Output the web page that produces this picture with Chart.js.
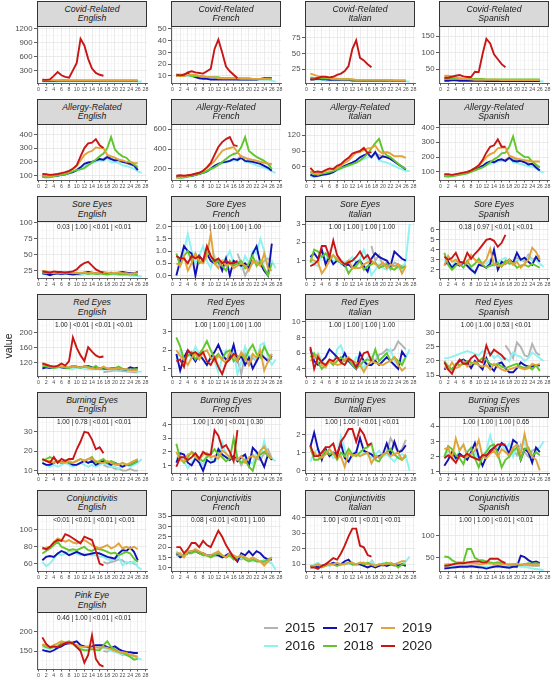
<!DOCTYPE html>
<html>
<head>
<meta charset="utf-8">
<script src="https://cdn.jsdelivr.net/npm/chart.js@4.4.1/dist/chart.umd.min.js"></script>
<style>
  body { margin: 0; background: #fff; }
  #wrap { position: relative; width: 552px; height: 680px; overflow: hidden; font-family: "Liberation Sans", Arial, sans-serif; }
  #wrap canvas { position: absolute; }
  .strip { position: absolute; box-sizing: border-box; background: #d9d9d9; border: 0.8px solid #333;
           text-align: center; font-style: italic; font-size: 8.7px; line-height: 9.4px; color: #1a1a1a; padding-top: 3px; z-index: 2; }
  .pval { position: absolute; font-size: 6.5px; color: #1a1a1a; text-align: center; white-space: nowrap; z-index: 2; }
  .ytitle { position: absolute; left: -10px; top: 340px; width: 36px; text-align: center; font-size: 10.5px; color: #1a1a1a; transform: rotate(-90deg); }
  .leg { position: absolute; font-size: 13.5px; color: #1a1a1a; line-height: 16px; }
  .sw { position: absolute; height: 2px; width: 14px; }
</style>
</head>
<body>
<div id="wrap"></div>
<script>
// years drawn in each panel, and the week each series starts at
const years = ["2015", "2016", "2017", "2018", "2019", "2020"];
const yearColors = ["#b3b3b3", "#8cf2f2", "#1212b4", "#60c62c", "#e2a33a", "#c81616"];
const firstWeek = [17, 1, 1, 1, 1, 1];
const weekTicks = [0, 2, 4, 6, 8, 10, 12, 14, 16, 18, 20, 22, 24, 26, 28];

const symptoms = ["Covid-Related", "Allergy-Related", "Sore Eyes", "Red Eyes", "Burning Eyes", "Conjunctivitis", "Pink Eye"];
const languages = ["English", "French", "Italian", "Spanish"];

// series per panel: 2015, 2016, 2017, 2018, 2019, 2020
const covidEnglish = [
  [75, 75, 75, 75, 75, 75, 75, 75, 75, 75],
  [60, 60, 60, 60, 60, 62, 62, 62, 62, 62, 62, 62, 62, 62, 62, 62, 62, 62, 62, 62, 62, 62, 62, 62, 62, 60, 58],
  [70, 70, 68, 68, 68, 68, 68, 68, 68, 68, 68, 68, 68, 68, 68, 68, 68, 68, 68, 68, 68, 68, 68, 68, 68, 70],
  [80, 78, 78, 78, 76, 76, 76, 76, 76, 76, 76, 76, 76, 76, 76, 76, 76, 76, 76, 76, 76, 76, 76, 76, 76, 76],
  [95, 92, 90, 90, 90, 92, 92, 90, 90, 90, 90, 90, 90, 90, 90, 90, 88, 88, 88, 88, 86, 86, 86, 85, 85, 85],
  [100, 95, 105, 180, 265, 195, 158, 140, 300, 460, 985, 840, 550, 340, 245, 205, 185]
];
const covidFrench = [
  [7, 7, 7, 7, 7, 7, 7, 7, 7, 7],
  [11, 11, 10, 10, 10, 10, 9, 9, 9, 9, 9, 8, 8, 8, 8, 8, 7, 7, 7, 7, 7, 7, 7, 7, 7, 6, 5],
  [10, 10, 11, 12, 10, 9, 8, 7.5, 7.5, 7, 7, 7, 7, 7, 7, 7, 7, 7, 7, 7, 7, 7, 7.5, 8, 8, 8],
  [11, 11, 11, 11, 10, 10, 10, 9, 9, 9, 9, 9, 8, 8, 8, 8, 8, 8, 8, 8, 7.5, 7.5, 7.5, 7.5, 7.5, 7.5],
  [10, 10, 10, 11, 11, 11, 10, 10, 9, 9, 9, 8, 8, 8, 8, 8, 8, 7.5, 7.5, 7.5, 7.5, 7.5, 7.5, 7.5, 7.5, 7],
  [11, 10.5, 11, 13, 14, 13, 12.5, 12, 14, 16, 33, 41, 30, 18, 14, 11, 8]
];
const covidItalian = [
  [6, 6, 6, 6, 6, 6, 6, 6, 6, 6],
  [8, 8, 8, 8, 7, 7, 7, 7, 7, 7, 7, 7, 7, 7, 6, 6, 6, 6, 6, 6, 6, 6, 6, 6, 6, 6, 5],
  [9, 9, 10, 9, 9, 8, 8, 8, 8, 8, 8, 7, 7, 7, 7, 7, 7, 7, 7, 7, 7, 7, 6, 6, 6, 6],
  [12, 11, 11, 10, 10, 10, 9, 9, 9, 9, 9, 8, 8, 8, 8, 8, 8, 8, 8, 8, 8, 7, 7, 7, 7, 7],
  [18, 16, 14, 13, 12, 11, 10, 10, 9, 9, 9, 9, 8, 8, 8, 8, 8, 8, 8, 8, 8, 8, 7, 7, 7, 7],
  [8.5, 9, 11, 13, 13, 12, 13, 16, 18, 22, 30, 57, 71, 43, 39, 33, 28]
];
const covidSpanish = [
  [15, 15, 15, 15, 15, 15, 15, 15, 15, 15],
  [18, 18, 18, 17, 17, 17, 17, 16, 16, 16, 16, 16, 16, 16, 16, 16, 15, 15, 15, 15, 15, 15, 15, 15, 15, 14, 12],
  [15, 15, 16, 16, 15, 15, 15, 15, 15, 15, 15, 14, 14, 14, 14, 14, 14, 14, 14, 14, 14, 14, 14, 14, 14, 14],
  [20, 20, 20, 21, 22, 21, 20, 20, 20, 20, 20, 19, 19, 19, 19, 19, 19, 19, 19, 19, 19, 19, 19, 19, 19, 19],
  [30, 30, 28, 25, 22, 20, 20, 19, 18, 18, 18, 18, 18, 18, 18, 17, 17, 17, 17, 17, 17, 17, 17, 17, 17, 17],
  [24, 24, 27, 30, 32, 28, 26, 26, 42, 41, 95, 142, 128, 95, 80, 65, 56]
];
const allergyEnglish = [
  [220, 240, 225, 210, 200, 200, 190, 180, 170, 160],
  [90, 85, 88, 92, 97, 102, 108, 115, 125, 135, 150, 165, 180, 190, 200, 210, 205, 230, 195, 200, 190, 175, 170, 160, 150, 130, 120],
  [95, 92, 93, 97, 100, 105, 110, 118, 125, 140, 160, 185, 195, 200, 210, 220, 215, 235, 220, 210, 215, 200, 195, 185, 175, 140],
  [90, 88, 90, 95, 100, 105, 110, 120, 130, 140, 145, 155, 175, 195, 215, 240, 260, 300, 380, 290, 260, 240, 230, 200, 180, 160],
  [100, 98, 96, 100, 110, 115, 120, 130, 150, 170, 210, 250, 270, 280, 305, 300, 300, 250, 240, 230, 215, 210, 200, 200, 190, 190],
  [112, 110, 105, 108, 112, 118, 125, 135, 150, 175, 240, 300, 335, 340, 365, 320, 300]
];
const allergyFrench = [
  [300, 330, 310, 290, 290, 280, 270, 260, 250, 240],
  [110, 105, 110, 118, 125, 135, 145, 160, 175, 195, 220, 240, 255, 265, 275, 285, 280, 320, 270, 265, 250, 235, 225, 210, 195, 175, 160],
  [120, 118, 120, 125, 130, 140, 150, 160, 175, 200, 230, 250, 265, 270, 280, 300, 290, 310, 280, 275, 270, 260, 250, 230, 210, 180],
  [115, 110, 115, 125, 130, 140, 150, 160, 180, 200, 215, 240, 270, 300, 330, 350, 360, 420, 520, 380, 350, 320, 300, 280, 250, 200],
  [110, 115, 120, 130, 140, 150, 160, 180, 210, 240, 280, 330, 380, 400, 410, 420, 370, 320, 310, 300, 290, 280, 270, 260, 255, 250],
  [130, 135, 130, 135, 140, 150, 160, 180, 215, 260, 340, 420, 470, 500, 520, 440, 430]
];
const allergyItalian = [
  [80, 85, 82, 80, 78, 75, 70, 65, 60, 55],
  [43, 40, 42, 44, 45, 47, 50, 53, 56, 60, 62, 65, 68, 72, 75, 78, 80, 85, 72, 70, 68, 65, 62, 58, 55, 52, 52],
  [45, 42, 43, 45, 46, 47, 50, 55, 58, 62, 65, 68, 72, 78, 82, 85, 78, 88, 75, 80, 78, 75, 70, 65, 60, 55],
  [50, 46, 45, 47, 48, 50, 52, 55, 58, 60, 63, 65, 68, 72, 78, 85, 95, 105, 113, 90, 82, 78, 72, 66, 60, 56],
  [52, 48, 46, 50, 52, 55, 55, 58, 62, 68, 72, 80, 87, 88, 92, 95, 96, 100, 90, 85, 88, 85, 80, 80, 80, 77],
  [58, 50, 51, 50, 54, 57, 56, 62, 65, 72, 77, 85, 88, 90, 96, 86, 88]
];
const allergySpanish = [
  [180, 200, 190, 180, 175, 170, 160, 150, 140, 130],
  [70, 68, 72, 76, 80, 85, 90, 100, 110, 120, 130, 145, 155, 160, 170, 175, 170, 195, 165, 160, 155, 145, 140, 135, 125, 105, 95],
  [75, 72, 75, 80, 85, 88, 95, 105, 115, 130, 140, 160, 170, 165, 180, 185, 175, 195, 175, 170, 175, 165, 150, 155, 130, 110],
  [70, 68, 70, 75, 80, 85, 90, 100, 110, 120, 130, 145, 165, 185, 200, 225, 230, 270, 340, 240, 220, 200, 200, 170, 150, 130],
  [80, 80, 78, 82, 88, 92, 100, 110, 125, 140, 170, 200, 220, 230, 260, 265, 265, 210, 200, 190, 185, 180, 175, 170, 170, 170],
  [85, 85, 80, 85, 90, 95, 100, 110, 125, 145, 180, 230, 270, 280, 320, 270, 270]
];
const soreEnglish = [
  [21, 22, 21, 20, 21, 22, 21, 20, 20, 19],
  [20, 19, 20, 21, 20, 19, 20, 21, 20, 19, 18, 19, 20, 21, 20, 19, 20, 19, 20, 19, 18, 19, 18, 17, 17, 17, 16],
  [21, 20, 18, 20, 21, 20, 21, 20, 19, 20, 21, 22, 23, 22, 21, 21, 22, 21, 22, 21, 22, 23, 22, 21, 21, 23],
  [22, 21, 22, 21, 22, 21, 23, 22, 21, 22, 21, 22, 20, 21, 20, 21, 20, 19, 20, 21, 20, 19, 20, 19, 19, 18],
  [25, 24, 23, 22, 23, 22, 21, 22, 22, 21, 22, 22, 21, 22, 21, 22, 23, 22, 21, 22, 22, 21, 21, 20, 21, 21],
  [24, 23, 22, 24, 23, 23, 22, 23, 24, 27, 33, 37, 39, 33, 27, 24, 22]
];
const soreFrench = [
  [0.9, 0.5, 0.0, 0.3, 0.5, 0.6, 0.4, 0.6, 0.7, 0.5],
  [0.9, 0.5, 1.0, 1.7, 1.0, 0.5, 0.8, 1.2, 0.6, 0.3, 0.8, 0.4, 0.6, 0.7, 1.0, 0.5, 0.6, 0.3, 0.8, 0.5, 1.0, 0.9, 1.5, 1.0, 0.4, 0.6, 0.3],
  [0.0, 0.6, 1.2, 1.0, 0.9, 0.0, 0.8, 0.6, 0.9, 0.6, 0.5, 0.6, 0.2, 0.7, 0.0, 0.6, 0.5, 0.4, 0.5, 0.3, 0.9, 1.2, 0.5, 0.2, 0.0, 1.3],
  [0.9, 0.4, 0.8, 1.0, 0.6, 0.9, 0.5, 0.6, 1.0, 0.8, 0.5, 0.6, 0.4, 0.2, 0.6, 0.4, 0.5, 0.6, 0.3, 0.5, 0.8, 0.4, 0.6, 0.3, 0.0, 0.5],
  [0.5, 0.4, 0.8, 0.2, 0.5, 0.9, 0.6, 0.5, 0.8, 1.7, 0.5, 0.3, 0.6, 0.4, 0.5, 0.3, 0.4, 0.5, 0.4, 0.2, 0.6, 0.5, 0.4, 0.9, 0.3, 0.2],
  [0.8, 0.7, 0.7, 0.5, 0.8, 0.7, 0.8, 0.6, 1.2, 0.8, 0.6, 0.7, 0.5, 0.6, 0.5, 0.5, 0.6]
];
const soreItalian = [
  [1.8, 1.0, 1.3, 0.7, 0.9, 0.5, 0.9, 0.8, 0.7, 0.8],
  [1.0, 0.8, 0.7, 1.5, 1.0, 1.5, 0.9, 1.1, 0.8, 0.9, 1.0, 1.2, 0.9, 1.1, 1.6, 1.0, 0.2, 0.5, 0.8, 0.6, 0.5, 0.8, 0.7, 0.6, 0.5, 1.0, 3.0],
  [1.2, 1.4, 1.1, 1.6, 0.8, 1.2, 0.8, 1.0, 0.9, 0.7, 0.8, 0.6, 0.9, 1.0, 0.7, 0.4, 1.1, 1.4, 1.2, 1.1, 1.0, 0.7, 1.5, 1.3, 1.1, 1.0],
  [0.9, 1.6, 1.5, 1.2, 1.4, 1.1, 1.3, 1.0, 0.9, 0.8, 0.3, 0.6, 0.7, 1.0, 0.5, 0.7, 0.8, 0.9, 0.6, 0.7, 0.8, 0.6, 0.5, 0.7, 0.6, 0.7],
  [1.1, 1.0, 0.9, 0.3, 0.6, 1.0, 1.3, 1.1, 0.9, 0.8, 1.0, 0.6, 0.6, 0.6, 0.8, 0.9, 1.0, 0.8, 0.7, 0.9, 0.6, 0.8, 0.7, 0.8, 0.3, 0.7],
  [0.7, 0.8, 1.0, 1.8, 1.8, 1.2, 2.1, 1.3, 1.0, 0.8, 0.9, 1.0, 1.2, 1.5, 1.1, 1.3, 0.9]
];
const soreSpanish = [
  [2.8, 3.0, 2.5, 3.2, 3.0, 2.8, 3.5, 3.0, 3.2, 3.4],
  [3.0, 2.5, 2.3, 3.0, 2.6, 2.8, 2.4, 2.2, 1.6, 2.5, 2.8, 2.6, 3.0, 2.4, 2.8, 3.0, 3.2, 2.6, 2.8, 3.0, 2.9, 3.1, 3.3, 2.9, 3.0, 2.6, 2.3],
  [2.5, 2.8, 2.2, 2.6, 2.4, 2.7, 2.4, 2.0, 1.7, 2.5, 2.4, 2.2, 2.6, 4.0, 2.0, 2.8, 2.6, 3.0, 2.7, 3.7, 3.0, 3.2, 2.8, 2.5, 3.3, 2.8],
  [3.7, 2.5, 2.0, 2.4, 2.6, 2.2, 2.9, 2.3, 2.6, 3.1, 2.5, 2.2, 2.4, 2.5, 2.7, 2.3, 2.9, 2.6, 2.7, 2.2, 2.4, 2.5, 2.3, 2.6, 2.4, 2.2],
  [2.4, 3.4, 2.8, 3.0, 2.5, 2.8, 2.6, 3.5, 3.0, 2.7, 2.6, 3.0, 4.1, 2.5, 2.4, 2.4, 2.6, 3.0, 2.5, 2.8, 2.2, 2.6, 3.0, 4.2, 3.8, 3.0],
  [3.3, 3.0, 3.2, 3.7, 2.8, 2.7, 3.7, 3.1, 3.6, 4.0, 4.5, 5.0, 5.1, 4.9, 4.3, 4.7, 5.5]
];
const redEnglish = [
  [95, 97, 98, 100, 99, 98, 97, 96, 95, 95],
  [110, 108, 106, 105, 108, 107, 105, 104, 103, 108, 106, 104, 103, 102, 104, 103, 102, 104, 103, 102, 103, 101, 100, 98, 99, 97, 96],
  [105, 108, 106, 108, 110, 108, 106, 108, 112, 110, 108, 110, 112, 108, 105, 106, 105, 104, 105, 106, 104, 103, 102, 108, 105, 107],
  [112, 110, 108, 106, 108, 110, 107, 106, 110, 108, 107, 112, 110, 106, 112, 104, 108, 105, 104, 106, 110, 104, 103, 102, 103, 103],
  [120, 116, 112, 110, 112, 110, 110, 108, 112, 110, 108, 110, 107, 105, 103, 105, 110, 105, 104, 103, 105, 102, 104, 100, 100, 100],
  [118, 115, 112, 110, 112, 118, 113, 125, 188, 160, 140, 125, 162, 150, 140, 135, 137]
];
const redFrench = [
  [1.5, 0.7, 1.8, 1.2, 1.6, 1.4, 1.9, 1.6, 1.5, 1.8],
  [1.5, 2.0, 1.4, 1.8, 1.6, 2.2, 1.8, 1.5, 1.2, 1.7, 1.4, 0.8, 1.6, 2.0, 1.5, 2.0, 0.7, 1.4, 2.2, 1.6, 1.8, 1.4, 2.3, 2.4, 1.6, 1.2, 1.5],
  [1.8, 0.9, 1.6, 2.0, 1.7, 1.4, 1.8, 1.5, 1.2, 1.6, 1.9, 2.3, 1.8, 1.5, 1.6, 2.3, 1.4, 1.7, 1.2, 1.6, 1.0, 1.4, 1.8, 1.6, 1.4, 1.7],
  [2.7, 2.2, 1.5, 1.7, 1.9, 1.5, 1.8, 2.1, 2.5, 2.0, 1.6, 1.8, 1.5, 1.9, 2.0, 1.4, 1.6, 1.8, 1.5, 2.0, 2.3, 1.8, 1.6, 2.2, 1.8, 1.5],
  [2.0, 1.7, 1.5, 1.2, 1.6, 1.8, 1.5, 1.9, 2.0, 1.6, 1.4, 1.7, 1.5, 1.3, 1.9, 1.7, 1.4, 1.9, 1.6, 1.2, 1.8, 1.6, 2.0, 0.9, 1.4, 1.8],
  [1.4, 1.5, 1.1, 2.0, 1.8, 1.9, 1.7, 1.9, 1.4, 1.2, 1.6, 1.1, 0.7, 1.3, 1.5, 1.8, 1.7]
];
const redItalian = [
  [5.5, 5.0, 5.8, 6.0, 6.5, 6.2, 6.5, 7.5, 7.0, 6.5],
  [6.5, 5.5, 6.0, 5.0, 4.5, 5.0, 4.5, 6.5, 7.0, 5.5, 5.0, 4.5, 5.5, 5.0, 4.0, 5.5, 5.5, 6.0, 5.0, 5.5, 6.0, 6.5, 5.0, 4.5, 5.0, 5.5, 6.5],
  [6.5, 5.0, 4.5, 5.0, 5.5, 6.5, 6.0, 5.5, 5.0, 6.0, 5.0, 4.5, 4.0, 6.0, 5.0, 4.5, 4.5, 5.0, 4.5, 5.0, 5.5, 5.0, 4.5, 4.0, 6.2, 5.5],
  [5.5, 6.0, 4.8, 4.0, 4.5, 5.0, 4.5, 5.0, 5.5, 5.0, 5.2, 4.5, 4.0, 4.5, 5.0, 5.2, 5.0, 6.5, 5.0, 5.5, 6.0, 5.0, 5.5, 5.0, 4.5, 5.5],
  [5.0, 5.5, 5.8, 4.5, 4.2, 5.0, 4.8, 4.5, 4.6, 5.2, 5.5, 5.0, 4.8, 4.5, 3.6, 4.5, 5.0, 4.8, 4.6, 4.5, 4.8, 5.0, 5.5, 4.5, 3.8, 4.2],
  [6.8, 4.0, 5.5, 4.8, 4.5, 5.2, 5.0, 5.5, 4.8, 4.5, 5.3, 5.0, 4.2, 5.0, 6.0, 6.2, 5.0]
];
const redSpanish = [
  [25.5, 23.5, 21, 26.5, 25, 22, 21.5, 26, 23, 22],
  [21, 21, 21.5, 22, 22.5, 23, 23.5, 23, 22.5, 22, 23.5, 22.5, 23, 21, 22, 20.5, 21, 20, 23, 22, 21.5, 20, 21, 23, 22, 21, 20],
  [17, 18, 17, 18.5, 20, 20.5, 19.5, 17.5, 20, 18.5, 17, 21, 18, 16.5, 19, 19.5, 17.5, 16, 16, 17.5, 19.5, 18.5, 18, 18, 18.5, 18.5],
  [20, 18, 17, 19, 18.5, 19, 20, 19.5, 19, 20, 21, 20.5, 19, 18.5, 19, 18, 17.5, 18, 18.5, 19, 18, 17.5, 18, 17, 18.5, 16.5],
  [18, 17, 19.5, 17.5, 18, 20, 18, 19, 19.5, 18.5, 18, 18.5, 17, 19, 18, 17, 16.5, 17, 17.5, 18, 17.5, 17, 17.5, 19, 18.5, 19],
  [19.5, 17, 15.5, 18.5, 20.5, 19, 19, 21, 22, 20, 19.5, 25.5, 22, 24, 23, 22, 20.5]
];
const burningEnglish = [
  [13, 12, 12, 11, 11, 10, 10, 11, 10, 10],
  [14, 13, 12, 13, 12, 13, 14, 13, 12, 13, 14, 13, 12, 13, 12, 13, 14, 13, 12, 12, 11, 12, 13, 12, 13, 14, 16],
  [14, 13, 13, 14, 15, 14, 15, 14, 13, 13, 14, 15, 14, 15, 13, 14, 15, 14, 13, 14, 13, 12, 13, 13, 14, 15],
  [15, 16, 17, 16, 15, 14, 15, 14, 14, 15, 16, 15, 16, 17, 14, 15, 16, 14, 15, 14, 13, 14, 13, 13, 14, 15],
  [16, 15, 15, 14, 15, 14, 14, 15, 14, 15, 16, 15, 16, 16, 15, 14, 14, 15, 14, 13, 13, 14, 13, 14, 15, 16],
  [16, 15, 14, 17, 14, 16, 15, 16, 16, 21, 25, 30, 29.5, 26, 21, 22, 19]
];
const burningFrench = [
  [1.6, 1.0, 1.5, 1.3, 1.8, 1.5, 1.4, 1.9, 2.2, 1.5],
  [1.5, 1.8, 1.3, 0.8, 1.2, 1.6, 1.4, 1.0, 1.9, 1.5, 1.3, 1.6, 2.7, 1.8, 1.4, 1.7, 1.5, 1.2, 1.5, 1.3, 1.1, 2.0, 1.6, 2.8, 1.7, 1.5, 1.3],
  [1.2, 1.9, 1.8, 1.2, 1.0, 1.5, 1.2, 0.6, 1.4, 1.2, 1.3, 2.2, 1.8, 1.6, 1.4, 1.7, 1.3, 1.6, 1.8, 1.0, 2.3, 2.0, 1.5, 0.9, 1.8, 1.4],
  [2.6, 1.5, 1.2, 1.6, 2.0, 1.8, 1.5, 1.3, 1.6, 1.8, 2.2, 1.8, 1.6, 1.3, 1.5, 3.0, 1.5, 1.2, 1.4, 0.9, 0.6, 1.6, 1.8, 2.0, 1.7, 1.5],
  [2.0, 1.4, 1.3, 1.8, 1.9, 1.6, 1.4, 1.8, 1.9, 1.6, 1.7, 1.5, 2.1, 1.9, 1.6, 1.5, 1.4, 1.7, 1.2, 1.6, 1.7, 1.5, 2.1, 2.4, 1.8, 1.5],
  [0.9, 1.6, 1.6, 1.4, 1.6, 1.9, 1.5, 2.0, 1.8, 1.8, 3.6, 3.2, 2.3, 2.5, 2.0, 1.3, 3.6]
];
const burningItalian = [
  [0.8, 0.9, 0.7, 0.8, 1.0, 1.8, 1.4, 1.0, 1.2, 1.7],
  [0.5, 1.0, 1.2, 0.8, 0.9, 1.0, 0.7, 0.8, 1.9, 1.2, 0.6, 0.9, 1.1, 0.8, 1.0, 0.9, 0.7, 0.9, 1.1, 0.8, 0.9, 0.7, 0.5, 0.8, 0.9, 0.8, 0.0],
  [1.3, 2.1, 1.2, 0.6, 1.2, 0.8, 1.0, 0.9, 1.5, 0.7, 0.5, 0.9, 1.0, 1.8, 1.1, 1.0, 0.9, 0.7, 0.8, 0.9, 1.5, 0.9, 1.6, 1.0, 1.1, 1.4],
  [1.3, 0.6, 0.6, 0.8, 1.1, 0.9, 1.0, 0.6, 1.0, 0.8, 1.2, 0.9, 0.8, 1.0, 1.2, 1.3, 1.5, 0.6, 0.5, 0.9, 1.0, 1.2, 0.9, 0.7, 0.6, 0.8],
  [1.1, 1.0, 0.8, 0.7, 0.9, 1.2, 0.9, 0.7, 0.8, 0.2, 1.0, 0.8, 0.9, 0.8, 0.9, 1.0, 0.4, 0.8, 0.7, 0.9, 1.0, 0.8, 0.9, 1.0, 0.6, 0.9],
  [1.4, 0.8, 0.8, 1.0, 1.3, 1.3, 1.5, 0.8, 1.6, 1.9, 2.3, 2.3, 1.6, 2.3, 2.0, 1.4, 1.5]
];
const burningSpanish = [
  [2.4, 2.0, 2.5, 2.1, 2.8, 2.3, 2.0, 2.4, 2.5, 2.6],
  [2.0, 2.4, 2.0, 1.8, 2.5, 2.8, 2.2, 2.0, 2.3, 1.8, 2.1, 2.4, 3.4, 2.5, 2.6, 2.8, 2.4, 2.9, 2.0, 2.7, 2.5, 3.0, 2.2, 2.0, 2.5, 2.6, 3.0],
  [1.4, 1.8, 2.3, 1.9, 2.2, 2.0, 1.8, 2.3, 2.9, 2.0, 1.4, 2.0, 2.4, 2.6, 2.4, 2.9, 2.7, 2.2, 3.1, 2.9, 1.8, 2.5, 2.3, 1.6, 2.6, 2.3],
  [2.0, 2.7, 2.5, 2.1, 1.9, 1.5, 2.3, 2.6, 1.9, 1.3, 2.0, 2.3, 2.7, 2.8, 2.2, 1.3, 1.8, 2.0, 2.4, 2.6, 1.8, 2.5, 2.6, 2.0, 2.3, 2.1],
  [2.5, 2.6, 1.9, 3.2, 2.4, 2.8, 2.0, 2.2, 2.4, 3.1, 2.0, 1.9, 2.2, 2.4, 2.0, 2.5, 2.3, 2.1, 2.6, 2.8, 2.2, 3.5, 2.4, 2.0, 1.8, 1.1],
  [1.9, 2.1, 1.9, 1.6, 2.1, 2.0, 2.2, 2.0, 1.9, 1.8, 2.1, 2.1, 2.3, 2.6, 2.8, 2.8, 2.8]
];
const conjEnglish = [
  [62, 60, 62, 63, 65, 64, 60, 62, 60, 58],
  [62, 57, 60, 66, 72, 70, 72, 75, 74, 72, 70, 72, 71, 70, 70, 68, 68, 65, 64, 66, 68, 58, 62, 60, 63, 56, 53],
  [64, 68, 69, 68, 72, 75, 73, 70, 72, 74, 72, 70, 71, 72, 73, 72, 70, 68, 67, 66, 72, 76, 75, 79, 74, 64],
  [72, 75, 78, 82, 86, 80, 78, 76, 77, 76, 78, 80, 76, 75, 78, 77, 76, 74, 72, 73, 70, 72, 74, 72, 66, 62],
  [77, 79, 80, 85, 90, 88, 86, 88, 85, 84, 86, 88, 85, 82, 80, 78, 80, 82, 78, 80, 84, 78, 80, 78, 80, 77],
  [79, 77, 80, 85, 88, 87, 95, 93, 90, 87, 84, 92, 90, 88, 75, 60, 58]
];
const conjFrench = [
  [15, 14, 15, 14, 13, 14, 13, 12, 13, 12],
  [18, 16, 16, 17, 18, 18, 17, 16, 16, 16, 17, 17, 16, 15, 16, 15, 14, 15, 15, 14, 13, 14, 13, 14, 13, 12, 9],
  [17, 15, 16, 17, 18, 18, 17, 17, 16, 16, 16, 16, 15, 16, 17, 15, 13, 17, 16, 18, 16, 18, 17, 15, 14, 14],
  [16, 16, 16, 17, 17, 18, 17, 16, 16, 15, 16, 17, 16, 15, 16, 14, 15, 16, 14, 13, 14, 13, 13, 13, 14, 15],
  [17, 17, 15, 18, 18, 19, 18, 17, 16, 16, 17, 18, 16, 15, 17, 16, 15, 16, 15, 14, 15, 14, 13, 11, 13, 15],
  [20, 20, 17, 19, 22, 22, 20, 23, 21, 20, 24, 28, 25, 21, 18, 15, 13]
];
const conjItalian = [
  [13, 9, 10, 9, 10, 10, 9, 10, 10, 9],
  [9, 10, 11, 9, 10, 9, 10, 11, 10, 11, 10, 11, 10, 11, 10, 10, 12, 9, 9, 11, 10, 11, 10, 11, 10, 12, 15],
  [9, 9, 8, 9, 10, 10, 11, 10, 10, 12, 13, 10, 10, 10, 9, 8, 9, 8, 9, 10, 9, 10, 10, 9, 10, 9],
  [9, 9, 10, 8, 9, 10, 10, 9, 10, 10, 11, 10, 10, 11, 10, 11, 10, 9, 10, 10, 11, 10, 10, 8, 10, 10],
  [9, 9, 10, 9, 9, 10, 10, 11, 10, 10, 11, 11, 10, 11, 11, 10, 10, 9, 10, 10, 10, 11, 10, 11, 12, 12],
  [8, 8, 7, 9, 10, 12, 14, 13, 17, 22, 28, 33, 33, 22, 21, 16, 15]
];
const conjSpanish = [
  [33, 34, 33, 32, 33, 34, 33, 32, 33, 32],
  [30, 30, 31, 32, 32, 33, 33, 32, 32, 32, 31, 30, 31, 32, 32, 33, 32, 31, 32, 32, 30, 30, 28, 26, 25, 24, 22],
  [26, 27, 28, 29, 30, 30, 30, 31, 30, 29, 28, 26, 28, 30, 31, 30, 29, 28, 30, 30, 55, 52, 45, 40, 42, 38],
  [53, 52, 45, 40, 40, 40, 70, 70, 50, 45, 45, 42, 40, 38, 40, 38, 36, 35, 35, 35, 34, 36, 38, 37, 38, 37],
  [35, 36, 36, 37, 38, 38, 37, 38, 37, 36, 36, 38, 37, 36, 37, 36, 36, 35, 36, 37, 35, 36, 35, 34, 33, 34],
  [32, 33, 35, 37, 38, 38, 40, 41, 42, 42, 40, 40, 48, 48, 48, 42, 38]
];
const pinkEnglish = [
  [150, 148, 155, 150, 145, 140, 142, 140, 138, 135],
  [160, 158, 155, 160, 165, 170, 168, 172, 168, 160, 158, 160, 158, 155, 158, 160, 158, 155, 150, 148, 145, 142, 140, 138, 135, 132, 128],
  [153, 150, 148, 152, 158, 162, 168, 170, 172, 175, 165, 162, 160, 162, 165, 165, 165, 160, 158, 162, 155, 150, 148, 147, 145, 145],
  [165, 160, 158, 160, 162, 170, 172, 175, 170, 160, 155, 152, 152, 155, 153, 152, 165, 175, 160, 155, 148, 145, 140, 135, 128, 130],
  [168, 163, 160, 165, 170, 175, 172, 170, 168, 165, 162, 160, 162, 158, 160, 158, 160, 158, 155, 150, 148, 147, 145, 140, 138, 135],
  [185, 168, 160, 162, 160, 165, 170, 172, 170, 160, 150, 120, 140, 190, 130, 115, 110]
];

const panels = [
  covidEnglish, covidFrench, covidItalian, covidSpanish,
  allergyEnglish, allergyFrench, allergyItalian, allergySpanish,
  soreEnglish, soreFrench, soreItalian, soreSpanish,
  redEnglish, redFrench, redItalian, redSpanish,
  burningEnglish, burningFrench, burningItalian, burningSpanish,
  conjEnglish, conjFrench, conjItalian, conjSpanish,
  pinkEnglish
];

const pValues = [
  "", "", "", "",
  "", "", "", "",
  "0.03 | 1.00 | <0.01 | <0.01", "1.00 | 1.00 | 1.00 | 1.00", "1.00 | 1.00 | 1.00 | 1.00", "0.18 | 0.97 | <0.01 | <0.01",
  "1.00 | <0.01 | <0.01 | <0.01", "1.00 | 1.00 | 1.00 | 1.00", "1.00 | 1.00 | 1.00 | 1.00", "1.00 | 1.00 | 0.53 | <0.01",
  "1.00 | 0.78 | <0.01 | <0.01", "1.00 | 1.00 | <0.01 | 0.30", "1.00 | 1.00 | <0.01 | <0.01", "1.00 | 1.00 | 1.00 | 0.65",
  "<0.01 | <0.01 | <0.01 | <0.01", "0.08 | <0.01 | <0.01 | 1.00", "1.00 | <0.01 | <0.01 | <0.01", "1.00 | 1.00 | <0.01 | <0.01",
  "0.46 | 1.00 | <0.01 | <0.01"
];

// y tick labels per panel
const yTickLabels = [
  ["300", "600", "900", "1200"], ["10", "20", "30", "40", "50"], ["25", "50", "75"], ["50", "100", "150"],
  ["100", "200", "300", "400"], ["200", "400", "600"], ["60", "90", "120"], ["100", "200", "300", "400"],
  ["25", "50", "75", "100"], ["0.0", "0.5", "1.0", "1.5", "2.0"], ["1", "2", "3"], ["2", "3", "4", "5", "6"],
  ["120", "160", "200"], ["1", "2", "3"], ["4", "6", "8", "10"], ["15", "20", "25", "30"],
  ["10", "20", "30"], ["1", "2", "3", "4"], ["0", "1", "2"], ["1", "2", "3", "4"],
  ["60", "80", "100"], ["10", "15", "20", "25", "30", "35"], ["10", "20", "30", "40"], ["50", "100"],
  ["150", "200"]
];

// free y limits of each facet
const yRange = [
  [27, 1236], [4, 51.5], [3, 92], [8, 177],
  [68, 474], [87, 651], [35, 141], [45, 423],
  [13.7, 100.5], [-0.1, 2.18], [0.05, 3.1], [1.17, 6.77],
  [85, 234], [0.6, 3.64], [3.1, 10.2], [14.7, 34.4],
  [8.8, 37.5], [0.44, 4.56], [-0.13, 2.95], [0.93, 4.6],
  [51.3, 117.4], [8.4, 35.5], [5.7, 41.7], [20.5, 146],
  [104, 247]
];

Chart.defaults.font.family = '"Liberation Sans", Arial, sans-serif';

const wrap = document.getElementById("wrap");
const colLeft = [37, 171, 305, 439];
const plotW = 110, plotH = 56, stripH = 25.5, rowPitch = 97.7;
const axisW = 37, padTop = 6, padRight = 8, xAxisH = 14, padBottom = 2;

function el(tag, cls, css, text) {
  const e = document.createElement(tag);
  if (cls) e.className = cls;
  Object.assign(e.style, css);
  if (text !== undefined) e.innerHTML = text;
  wrap.appendChild(e);
  return e;
}

panels.forEach((series, p) => {
  const row = Math.floor(p / 4), col = p % 4;
  const stripTop = 1 + row * rowPitch;
  const plotTop = stripTop + stripH;
  const left = colLeft[col];

  const cv = el("canvas", "", {
    left: (left - axisW) + "px", top: (plotTop - padTop) + "px"
  });
  cv.width = axisW + plotW + padRight;
  cv.height = padTop + plotH + xAxisH + padBottom;

  const majors = yTickLabels[p].map(Number);
  const [ymin, ymax] = yRange[p];
  const isMajor = v => majors.some(m => Math.abs(m - v) < 1e-6);

  new Chart(cv, {
    type: "line",
    data: {
      datasets: series.map((vals, i) => ({
        label: years[i],
        data: vals.map((v, k) => ({ x: firstWeek[i] + k, y: v })),
        borderColor: yearColors[i],
        borderWidth: 1.9,
        pointRadius: 0,
        tension: 0,
        fill: false,
        order: series.length - 1 - i
      }))
    },
    options: {
      responsive: false,
      animation: false,
      events: [],
      layout: { padding: { top: padTop, right: padRight, bottom: padBottom, left: 0 } },
      plugins: { legend: { display: false }, tooltip: { enabled: false } },
      scales: {
        x: {
          type: "linear", min: -0.4, max: 28.4,
          afterBuildTicks: s => { s.ticks = []; for (let w = 0; w <= 28; w++) s.ticks.push({ value: w }); },
          afterFit: s => { s.height = xAxisH; },
          ticks: {
            autoSkip: false, maxRotation: 0, minRotation: 0, padding: 0.5,
            font: { size: 5.3 }, color: "#4d4d4d",
            callback: v => weekTicks.includes(v) ? String(v) : ""
          },
          grid: {
            color: c => weekTicks.includes(c.tick.value) ? "#e6e6e6" : "#f1f1f1",
            lineWidth: c => weekTicks.includes(c.tick.value) ? 0.8 : 0.5,
            tickLength: 2.5,
            tickColor: c => weekTicks.includes(c.tick.value) ? "#333" : "rgba(0,0,0,0)"
          },
          border: { display: true, color: "#333", width: 0.8 }
        },
        y: {
          type: "linear", min: ymin, max: ymax,
          afterBuildTicks: s => {
            const step = majors[1] - majors[0];
            const vals = [];
            for (let v = majors[0] - step; v <= ymax + 1e-9; v += step / 2) {
              if (v >= ymin - 1e-9) vals.push(+v.toFixed(6));
            }
            s.ticks = vals.map(v => ({ value: v }));
          },
          afterFit: s => { s.width = axisW; },
          ticks: {
            autoSkip: false, padding: 1.5, font: { size: 7.8 }, color: "#4d4d4d",
            callback: v => {
              const idx = majors.findIndex(m => Math.abs(m - v) < 1e-6);
              return idx >= 0 ? yTickLabels[p][idx] : "";
            }
          },
          grid: {
            color: c => isMajor(c.tick.value) ? "#e6e6e6" : "#f1f1f1",
            lineWidth: c => isMajor(c.tick.value) ? 0.8 : 0.5,
            tickLength: 3,
            tickColor: c => isMajor(c.tick.value) ? "#333" : "rgba(0,0,0,0)"
          },
          border: { display: true, color: "#333", width: 0.8 }
        }
      }
    }
  });

  el("div", "strip", {
    left: left + "px", top: stripTop + "px", width: plotW + "px", height: (stripH + 0.5) + "px"
  }, symptoms[row] + "<br>" + languages[col]);

  if (pValues[p]) {
    el("div", "pval", {
      left: (left + 2) + "px", top: (plotTop + 1) + "px", width: plotW + "px"
    }, pValues[p].replace(/</g, "&lt;"));
  }
});

el("div", "ytitle", {}, "value");

// legend, two rows of three
years.forEach((y, i) => {
  const r = i % 2, c = Math.floor(i / 2);
  const sx = 264 + c * 58.5, cy = 628 + r * 18;
  el("div", "sw", { left: sx + "px", top: (cy - 1) + "px", background: yearColors[i] });
  el("div", "leg", { left: (sx + 21) + "px", top: (cy - 8) + "px" }, y);
});
</script>
</body>
</html>
